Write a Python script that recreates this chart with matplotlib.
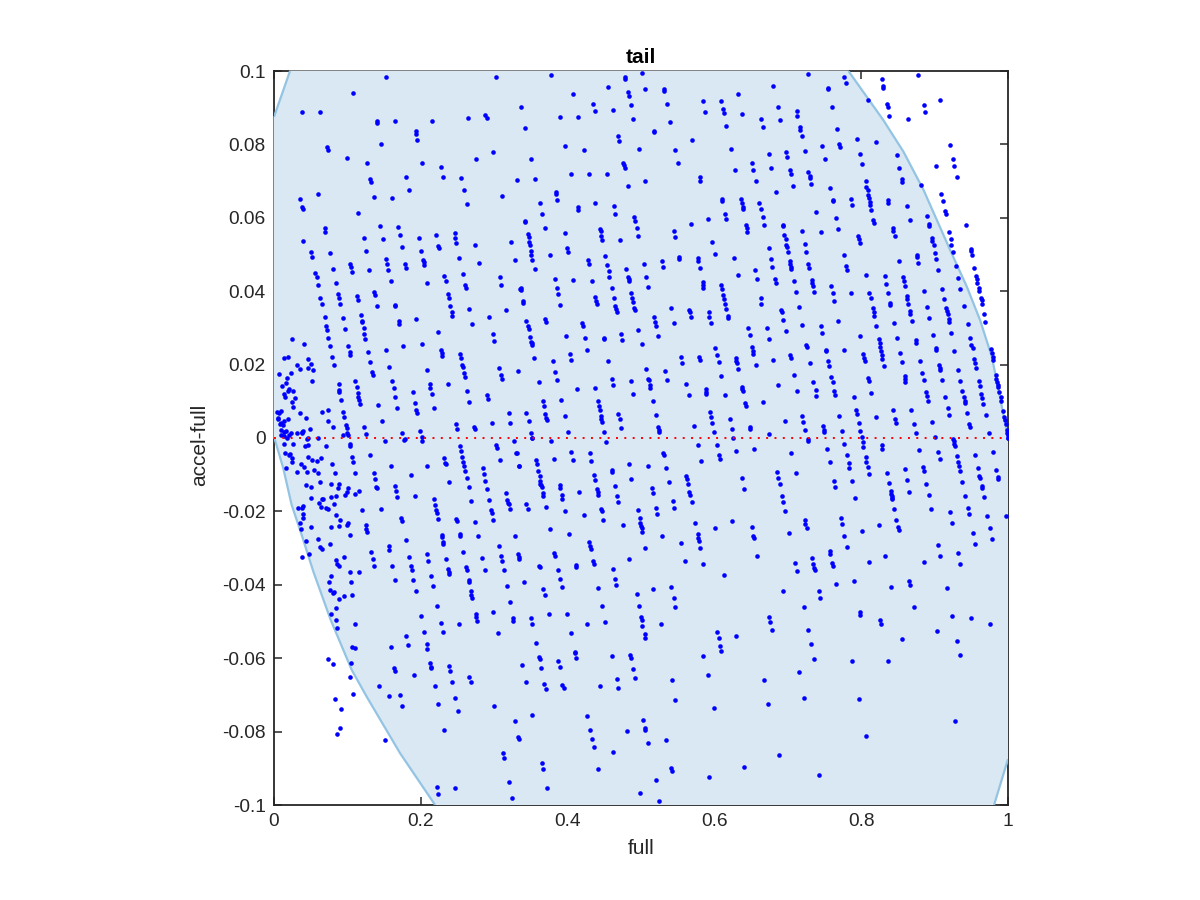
#!/usr/bin/env python3
import matplotlib
matplotlib.use("Agg")
import matplotlib.pyplot as plt

# values, as (full, accel-full), one list per region of the plot
top_left = [(.153,.0983),(.303,.0985),(.107,.0941),(.038,.0887),(.063,.0888),(.140,.0864),(.141,.0857),(.165,.0864),(.215,.0864),
(.264,.0872),(.288,.0880),(.290,.0871),(.193,.0836),(.194,.0828),(.195,.0811),(.146,.0800),(.072,.0792),(.073,.0784),(.100,.0762),
(.127,.0748),(.201,.0749),(.228,.0739),(.275,.0760),(.299,.0778),(.131,.0707),(.132,.0697),(.180,.0712),(.230,.0712),(.255,.0709),
(.331,.0702),(.184,.0675),(.259,.0675),(.060,.0665),(.036,.0650),(.038,.0630),(.039,.0625),(.136,.0656),(.161,.0653),(.263,.0638),
(.310,.0659),(.115,.0614),(.069,.0573),(.070,.0562),(.144,.0577),(.169,.0575),(.122,.0546),(.148,.0541),(.171,.0552),(.197,.0544),
(.221,.0554),(.246,.0559),(.247,.0544),(.248,.0530),(.274,.0527),(.323,.0534),(.040,.0536),(.175,.0520),(.224,.0523),(.225,.0518)]

top_mid = [(.377,.0990),(.478,.0983),(.478,.0979),(.502,.0995),(.455,.0957),(.482,.0943),(.483,.0931),(.506,.0950),(.531,.0952),
(.532,.0945),(.407,.0937),(.632,.0937),(.435,.0910),(.437,.0892),(.462,.0893),(.486,.0907),(.535,.0911),(.584,.0917),(.609,.0918),
(.612,.0897),(.613,.0885),(.587,.0887),(.638,.0884),(.336,.0901),(.389,.0876),(.414,.0874),(.489,.0870),(.540,.0861),(.342,.0845),
(.616,.0849),(.518,.0837),(.518,.0833),(.469,.0822),(.470,.0809),(.570,.0811),(.396,.0796),(.422,.0786),(.497,.0788),(.547,.0785),
(.622,.0787),(.350,.0760),(.476,.0749),(.477,.0743),(.478,.0735),(.551,.0749),(.651,.0750),(.628,.0730),(.653,.0730),(.404,.0718),
(.429,.0719),(.454,.0720),(.356,.0707),(.580,.0712),(.581,.0699),(.656,.0699),(.506,.0700),(.482,.0688),(.384,.0671),(.384,.0666),
(.386,.0649),(.362,.0640),(.437,.0640),(.414,.0629),(.414,.0622),(.463,.0631),(.611,.0651),(.611,.0645),(.636,.0652),(.638,.0640),
(.639,.0629),(.639,.0624),(.661,.0640),(.365,.0611),(.465,.0610),(.615,.0610),(.491,.0601),(.492,.0591),(.591,.0598),(.616,.0598),
(.342,.0591),(.342,.0588),(.568,.0583),(.369,.0573),(.494,.0571),(.643,.0580),(.644,.0573),(.645,.0562),(.346,.0556),(.347,.0547),
(.396,.0558),(.444,.0570),(.445,.0563),(.446,.0551),(.447,.0540),(.496,.0551),(.545,.0563),(.546,.0549),(.472,.0539),(.348,.0533),
(.349,.0526),(.597,.0533),(.399,.0518)]

top_right = [(.727,.0991),(.680,.0959),(.755,.0955),(.755,.0952),(.777,.0985),(.779,.0966),(.828,.0979),(.830,.0959),(.830,.0955),
(.877,.0989),(.809,.0921),(.835,.0909),(.836,.0901),(.885,.0908),(.887,.0887),(.908,.0921),(.838,.0877),(.864,.0868),(.686,.0902),
(.760,.0903),(.712,.0892),(.713,.0878),(.664,.0870),(.689,.0867),(.666,.0847),(.716,.0848),(.717,.0840),(.719,.0822),(.767,.0843),
(.794,.0816),(.820,.0806),(.770,.0801),(.771,.0794),(.747,.0795),(.723,.0783),(.698,.0778),(.699,.0766),(.674,.0773),(.798,.0775),
(.849,.0771),(.921,.0798),(.750,.0761),(.801,.0747),(.925,.0759),(.927,.0741),(.902,.0740),(.852,.0737),(.677,.0737),(.703,.0729),
(.704,.0720),(.728,.0724),(.730,.0715),(.730,.0709),(.732,.0692),(.930,.0711),(.855,.0705),(.856,.0697),(.806,.0700),(.807,.0685),
(.809,.0675),(.809,.0663),(.810,.0654),(.812,.0642),(.812,.0636),(.707,.0687),(.757,.0682),(.882,.0690),(.684,.0670),(.909,.0664),
(.911,.0647),(.761,.0649),(.761,.0645),(.786,.0650),(.788,.0635),(.836,.0648),(.837,.0639),(.862,.0633),(.814,.0621),(.739,.0615),
(.914,.0618),(.915,.0609),(.766,.0600),(.664,.0623),(.666,.0602),(.890,.0605),(.867,.0593),(.816,.0595),(.818,.0586),(.693,.0581),
(.693,.0578),(.668,.0581),(.893,.0584),(.893,.0579),(.943,.0581),(.769,.0570),(.844,.0571),(.844,.0563),(.846,.0551),(.719,.0564),
(.745,.0560),(.920,.0560),(.695,.0553),(.697,.0542),(.796,.0551),(.797,.0541),(.798,.0532),(.896,.0545),(.897,.0536),(.899,.0525),
(.922,.0542),(.923,.0526),(.723,.0528),(.698,.0525),(.699,.0521),(.674,.0519),(.949,.0514)]

upper_left = [(.050,.0508),(.052,.0494),(.076,.0505),(.125,.0509),(.200,.0509),(.153,.0489),(.154,.0475),(.155,.0458),(.203,.0485),
(.204,.0479),(.204,.0472),(.179,.0473),(.180,.0464),(.252,.0490),(.279,.0476),(.328,.0484),(.104,.0473),(.105,.0467),(.106,.0452),
(.080,.0460),(.130,.0458),(.056,.0450),(.058,.0438),(.060,.0418),(.159,.0427),(.084,.0421),(.209,.0422),(.232,.0441),(.234,.0428),
(.257,.0446),(.260,.0417),(.261,.0408),(.308,.0438),(.309,.0418),(.335,.0407),(.136,.0399),(.137,.0389),(.087,.0393),(.088,.0382),
(.090,.0366),(.113,.0386),(.114,.0375),(.237,.0392),(.238,.0382),(.240,.0361),(.242,.0343),(.243,.0333),(.063,.0381),(.065,.0365),
(.165,.0362),(.165,.0359),(.140,.0359),(.266,.0352),(.316,.0350),(.069,.0330),(.118,.0334),(.120,.0319),(.120,.0316),(.094,.0326),
(.170,.0319),(.170,.0311),(.194,.0324),(.293,.0331),(.270,.0311),(.071,.0304),(.072,.0294),(.097,.0298),(.122,.0300),(.123,.0284),
(.124,.0270),(.223,.0289),(.298,.0283),(.300,.0265),(.074,.0273),(.024,.0269),(.041,.0255),(.076,.0250),(.101,.0252),(.103,.0235),
(.104,.0226),(.176,.0250),(.201,.0256),(.152,.0241),(.128,.0234),(.228,.0240),(.229,.0231),(.229,.0223),(.253,.0230),(.255,.0219),
(.079,.0220),(.019,.0220),(.013,.0217),(.046,.0215),(.131,.0206),(.051,.0202),(.031,.0199),(.082,.0198),(.256,.0199),(.257,.0194),
(.157,.0193),(.047,.0192),(.036,.0187),(.053,.0184),(.307,.0191),(.333,.0183),(.208,.0185),(.023,.0178),(.133,.0181),(.135,.0173),
(.007,.0174),(.259,.0177),(.260,.0167),(.309,.0173),(.310,.0160),(.018,.0163),(.052,.0156),(.111,.0154),(.113,.0139),(.115,.0122),
(.115,.0111),(.116,.0103),(.117,.0094),(.161,.0154),(.163,.0136),(.165,.0112),(.016,.0150),(.011,.0143),(.089,.0147),(.089,.0131),
(.089,.0125),(.212,.0147),(.213,.0137),(.215,.0121),(.237,.0146),(.263,.0128),(.266,.0099),(.020,.0134),(.019,.0128),(.026,.0129),
(.189,.0124),(.290,.0117),(.291,.0105),(.014,.0119),(.015,.0111),(.028,.0109),(.091,.0103),(.025,.0099),(.192,.0095),(.142,.0091),
(.026,.0085),(.168,.0083),(.218,.0081),(.194,.0076),(.195,.0068),(.073,.0076),(.065,.0072),(.094,.0070),(.095,.0058),(.004,.0071),
(.010,.0073),(.007,.0069),(.035,.0067),(.320,.0068),(.044,.0054),(.005,.0055),(.005,.0053),(.019,.0053),(.147,.0047),(.074,.0046),
(.014,.0046),(.010,.0042),(.008,.0038),(.012,.0035),(.248,.0039),(.249,.0025),(.322,.0041),(.297,.0040),(.273,.0031),(.274,.0025),
(.098,.0035),(.099,.0028),(.081,.0030),(.123,.0030),(.049,.0025),(.010,.0022),(.013,.0017),(.016,.0019),(.009,.0007),(.038,.0017),
(.039,.0018),(.038,.0014),(.023,.0014),(.021,.0007),(.199,.0020),(.031,.0013),(.100,.0014),(.101,.0007),(.094,.0009),(.125,.0011),
(.175,.0014),(.201,.0003),(.047,.0001),(.060,-.0001),(.014,.0005),(.018,.0001),(.045,-.0004),(.178,-.0004)]

upper_mid = [(.350,.0509),(.350,.0500),(.376,.0499),(.401,.0507),(.352,.0485),(.355,.0460),(.428,.0484),(.429,.0474),(.451,.0497),
(.454,.0471),(.456,.0455),(.457,.0438),(.480,.0460),(.504,.0473),(.528,.0482),(.530,.0465),(.552,.0494),(.552,.0488),(.577,.0490),
(.578,.0483),(.580,.0464),(.601,.0501),(.627,.0490),(.632,.0445),(.655,.0458),(.658,.0432),(.383,.0433),(.408,.0431),(.433,.0427),
(.482,.0439),(.483,.0432),(.483,.0428),(.507,.0438),(.510,.0412),(.584,.0424),(.585,.0417),(.585,.0410),(.609,.0418),(.611,.0406),
(.385,.0410),(.387,.0393),(.336,.0408),(.336,.0403),(.461,.0408),(.486,.0396),(.612,.0390),(.613,.0379),(.438,.0383),(.439,.0374),
(.440,.0365),(.463,.0382),(.488,.0382),(.489,.0371),(.339,.0372),(.339,.0368),(.390,.0363),(.615,.0365),(.616,.0352),(.465,.0359),
(.466,.0351),(.467,.0343),(.491,.0355),(.492,.0349),(.541,.0353),(.566,.0348),(.567,.0342),(.568,.0329),(.592,.0342),(.593,.0331),
(.595,.0313),(.618,.0332),(.619,.0326),(.518,.0329),(.519,.0317),(.521,.0304),(.344,.0319),(.346,.0305),(.347,.0296),(.369,.0323),
(.370,.0315),(.545,.0314),(.420,.0312),(.421,.0305),(.646,.0300),(.496,.0294),(.473,.0284),(.648,.0281),(.398,.0279),(.424,.0273),
(.523,.0277),(.349,.0274),(.350,.0262),(.351,.0258),(.351,.0253),(.449,.0272),(.449,.0269),(.474,.0268),(.501,.0255),(.601,.0245),
(.651,.0247),(.652,.0236),(.653,.0228),(.427,.0240),(.403,.0230),(.405,.0212),(.604,.0225),(.606,.0207),(.554,.0220),(.556,.0204),
(.579,.0220),(.580,.0212),(.354,.0219),(.380,.0211),(.455,.0210),(.629,.0218),(.630,.0211),(.631,.0205),(.657,.0199),(.632,.0187),
(.507,.0189),(.383,.0181),(.533,.0182),(.609,.0168),(.386,.0158),(.361,.0153),(.460,.0161),(.486,.0154),(.510,.0161),(.511,.0157),
(.512,.0145),(.512,.0137),(.536,.0157),(.561,.0146),(.462,.0144),(.413,.0134),(.438,.0135),(.588,.0133),(.589,.0126),(.589,.0121),
(.637,.0139),(.638,.0134),(.639,.0128),(.489,.0120),(.565,.0118),(.615,.0116),(.366,.0102),(.368,.0086),(.391,.0104),(.441,.0102),
(.443,.0086),(.444,.0075),(.516,.0102),(.642,.0096),(.643,.0088),(.344,.0069),(.369,.0066),(.371,.0054),(.372,.0049),(.396,.0059),
(.445,.0061),(.446,.0053),(.447,.0044),(.469,.0066),(.471,.0053),(.520,.0064),(.594,.0072),(.596,.0058),(.597,.0042),(.621,.0053),
(.347,.0047),(.572,.0034),(.473,.0028),(.523,.0031),(.524,.0021),(.525,.0015),(.648,.0031),(.649,.0024),(.624,.0024),(.350,.0014),
(.400,.0016),(.450,.0015),(.600,.0015),(.352,-.0001),(.626,.0001)]

upper_right = [(.677,.0487),(.700,.0507),(.725,.0508),(.679,.0466),(.703,.0481),(.703,.0474),(.704,.0467),(.705,.0460),(.728,.0473),
(.729,.0463),(.776,.0499),(.779,.0469),(.780,.0459),(.852,.0483),(.876,.0500),(.876,.0492),(.878,.0477),(.900,.0504),(.902,.0489),
(.905,.0458),(.925,.0507),(.929,.0469),(.949,.0510),(.951,.0499),(.954,.0464),(.932,.0436),(.935,.0407),(.957,.0441),(.958,.0433),
(.958,.0423),(.960,.0409),(.961,.0400),(.807,.0443),(.832,.0442),(.857,.0439),(.858,.0429),(.859,.0414),(.834,.0419),(.683,.0434),
(.684,.0422),(.708,.0427),(.733,.0430),(.733,.0421),(.734,.0413),(.759,.0414),(.711,.0398),(.736,.0398),(.761,.0396),(.786,.0394),
(.811,.0396),(.813,.0382),(.836,.0396),(.886,.0400),(.910,.0406),(.913,.0379),(.963,.0382),(.964,.0376),(.862,.0388),(.863,.0380),
(.663,.0382),(.664,.0364),(.763,.0373),(.839,.0369),(.839,.0363),(.864,.0365),(.964,.0364),(.940,.0361),(.715,.0356),(.890,.0356),
(.691,.0349),(.692,.0344),(.816,.0353),(.817,.0343),(.818,.0333),(.867,.0345),(.867,.0339),(.916,.0353),(.917,.0346),(.918,.0338),
(.919,.0324),(.920,.0315),(.967,.0339),(.893,.0327),(.969,.0317),(.693,.0322),(.769,.0319),(.869,.0319),(.845,.0312),(.720,.0309),
(.745,.0304),(.945,.0310),(.820,.0306),(.671,.0299),(.697,.0291),(.747,.0287),(.922,.0286),(.898,.0280),(.798,.0279),(.849,.0273),
(.948,.0272),(.674,.0269),(.824,.0269),(.825,.0260),(.826,.0249),(.827,.0236),(.828,.0225),(.829,.0214),(.831,.0197),(.874,.0266),
(.875,.0260),(.950,.0253),(.952,.0244),(.725,.0254),(.726,.0248),(.902,.0244),(.902,.0241),(.752,.0241),(.752,.0238),(.777,.0240),
(.927,.0238),(.977,.0243),(.978,.0231),(.979,.0221),(.979,.0212),(.853,.0231),(.803,.0230),(.804,.0217),(.805,.0209),(.703,.0227),
(.704,.0217),(.680,.0213),(.755,.0211),(.756,.0197),(.880,.0211),(.855,.0206),(.954,.0216),(.955,.0203),(.957,.0191),(.730,.0203),
(.906,.0200),(.907,.0192),(.908,.0185),(.932,.0186),(.883,.0178),(.708,.0173),(.759,.0167),(.761,.0152),(.809,.0164),(.810,.0155),
(.859,.0168),(.860,.0161),(.860,.0152),(.885,.0157),(.910,.0158),(.935,.0154),(.960,.0156),(.984,.0172),(.984,.0162),(.985,.0153),
(.986,.0144),(.987,.0138),(.735,.0153),(.686,.0145),(.962,.0141),(.738,.0132),(.713,.0127),(.763,.0129),(.764,.0118),(.938,.0127),
(.940,.0112),(.941,.0102),(.941,.0095),(.988,.0125),(.963,.0121),(.965,.0108),(.966,.0094),(.888,.0125),(.889,.0115),(.914,.0112),
(.990,.0111),(.991,.0102),(.814,.0122),(.739,.0115),(.790,.0113),(.891,.0102),(.666,.0098),(.793,.0075),(.794,.0066),(.844,.0075),
(.868,.0076),(.918,.0081),(.919,.0064),(.944,.0069),(.970,.0062),(.993,.0073),(.995,.0058),(.996,.0049),(.997,.0038),(.720,.0060),
(.770,.0061),(.820,.0058),(.721,.0044),(.696,.0046),(.846,.0052),(.847,.0041),(.897,.0043),(.797,.0042),(.872,.0038),(.947,.0037),
(.948,.0029),(.748,.0033),(.749,.0021),(.749,.0017),(.723,.0021),(.774,.0019),(.799,.0019),(.874,.0014),(.974,.0014),(.998,.0022),
(.999,.0014),(1.000,.0007),(1.000,-.0001),(.675,.0010),(.801,.0003),(.900,.0003),(.925,-.0004),(.728,-.0004)]

lower_left = [(.151,-.0009),(.177,-.0005),(.202,-.0007),(.014,-.0016),(.026,-.0016),(.042,-.0023),(.046,-.0019),(.071,-.0021),
(.103,-.0015),(.104,-.0022),(.254,-.0021),(.255,-.0036),(.256,-.0051),(.258,-.0065),(.259,-.0076),(.260,-.0089),(.263,-.0110),
(.265,-.0134),(.303,-.0019),(.304,-.0027),(.015,-.0040),(.020,-.0046),(.022,-.0044),(.025,-.0055),(.024,-.0066),(.047,-.0052),
(.052,-.0060),(.059,-.0064),(.064,-.0055),(.106,-.0051),(.108,-.0066),(.131,-.0046),(.232,-.0055),(.233,-.0067),(.234,-.0071),
(.331,-.0042),(.308,-.0060),(.037,-.0071),(.041,-.0080),(.016,-.0083),(.079,-.0072),(.159,-.0077),(.209,-.0077),(.334,-.0075),
(.055,-.0087),(.031,-.0092),(.045,-.0092),(.060,-.0096),(.083,-.0096),(.111,-.0096),(.136,-.0096),(.137,-.0111),(.139,-.0133),
(.140,-.0135),(.186,-.0101),(.285,-.0082),(.286,-.0099),(.288,-.0116),(.290,-.0138),(.293,-.0169),(.296,-.0195),(.297,-.0203),
(.299,-.0224),(.062,-.0119),(.078,-.0125),(.088,-.0125),(.087,-.0137),(.044,-.0128),(.051,-.0133),(.165,-.0130),(.166,-.0145),
(.168,-.0161),(.239,-.0121),(.101,-.0136),(.099,-.0146),(.097,-.0155),(.116,-.0145),(.111,-.0153),(.316,-.0150),(.318,-.0169),
(.319,-.0176),(.320,-.0181),(.321,-.0194),(.051,-.0164),(.065,-.0165),(.067,-.0165),(.078,-.0161),(.085,-.0159),(.192,-.0158),
(.218,-.0167),(.220,-.0182),(.221,-.0195),(.222,-.0204),(.224,-.0221),(.269,-.0171),(.061,-.0177),(.082,-.0181),(.033,-.0190),
(.038,-.0190),(.040,-.0184),(.064,-.0188),(.071,-.0190),(.073,-.0194),(.120,-.0197),(.146,-.0194),(.039,-.0206),(.040,-.0217),
(.085,-.0209),(.090,-.0223),(.173,-.0217),(.174,-.0227),(.248,-.0221),(.249,-.0226),(.036,-.0231),(.274,-.0230),(.101,-.0232),
(.100,-.0238),(.089,-.0240),(.077,-.0242),(.051,-.0243),(.037,-.0247),(.125,-.0238),(.126,-.0247),(.127,-.0256),(.104,-.0264),
(.229,-.0265),(.229,-.0271),(.253,-.0261),(.253,-.0267),(.278,-.0268),(.328,-.0266),(.060,-.0275),(.180,-.0278),(.043,-.0282),
(.076,-.0288),(.230,-.0283),(.230,-.0290),(.156,-.0293),(.157,-.0304),(.063,-.0298),(.065,-.0303),(.306,-.0294),(.132,-.0310),
(.257,-.0311),(.048,-.0315),(.208,-.0317),(.210,-.0335),(.038,-.0325),(.095,-.0324),(.184,-.0324),(.309,-.0322),(.310,-.0336),
(.284,-.0328),(.333,-.0317),(.334,-.0324),(.334,-.0331),(.135,-.0329),(.084,-.0332),(.235,-.0331),(.086,-.0342),(.089,-.0349),
(.136,-.0350),(.161,-.0349),(.186,-.0350),(.188,-.0361),(.237,-.0356),(.238,-.0364),(.239,-.0371),(.262,-.0352),(.263,-.0361),
(.288,-.0361),(.313,-.0360),(.103,-.0365),(.116,-.0364),(.077,-.0377),(.214,-.0376),(.075,-.0393),(.105,-.0392),(.165,-.0386),
(.190,-.0387),(.265,-.0386),(.266,-.0392),(.217,-.0403),(.317,-.0403),(.076,-.0415),(.082,-.0419),(.081,-.0423),(.193,-.0417),
(.268,-.0417),(.269,-.0428),(.270,-.0435),(.095,-.0430),(.106,-.0428),(.089,-.0439),(.321,-.0447),(.222,-.0459),(.085,-.0463),
(.299,-.0473),(.078,-.0479),(.200,-.0485),(.275,-.0480),(.275,-.0488),(.276,-.0499),(.085,-.0496),(.326,-.0491),(.326,-.0499),
(.111,-.0508),(.227,-.0505),(.252,-.0507)]

lower_mid = [(.327,-.0008),(.351,-.0001),(.377,-.0007),(.452,-.0012),(.578,-.0019),(.603,-.0019),(.330,-.0042),(.405,-.0037),
(.431,-.0042),(.530,-.0041),(.531,-.0046),(.606,-.0047),(.607,-.0058),(.630,-.0036),(.654,-.0030),(.357,-.0059),(.358,-.0071),
(.381,-.0056),(.407,-.0061),(.432,-.0063),(.582,-.0064),(.334,-.0075),(.483,-.0071),(.509,-.0075),(.534,-.0081),(.360,-.0090),
(.362,-.0104),(.363,-.0117),(.363,-.0124),(.364,-.0128),(.365,-.0134),(.460,-.0086),(.461,-.0094),(.436,-.0101),(.438,-.0115),
(.561,-.0104),(.562,-.0112),(.564,-.0125),(.637,-.0110),(.487,-.0111),(.538,-.0121),(.389,-.0128),(.390,-.0137),(.464,-.0131),
(.515,-.0137),(.516,-.0150),(.640,-.0139),(.440,-.0140),(.441,-.0146),(.442,-.0154),(.416,-.0147),(.366,-.0150),(.367,-.0159),
(.392,-.0155),(.393,-.0165),(.467,-.0157),(.566,-.0148),(.567,-.0155),(.569,-.0174),(.469,-.0175),(.543,-.0171),(.344,-.0179),
(.346,-.0193),(.370,-.0188),(.520,-.0190),(.522,-.0206),(.545,-.0192),(.396,-.0200),(.446,-.0194),(.447,-.0200),(.496,-.0196),
(.422,-.0211),(.498,-.0218),(.448,-.0223),(.499,-.0232),(.500,-.0240),(.501,-.0244),(.502,-.0256),(.574,-.0231),(.624,-.0225),
(.475,-.0238),(.651,-.0242),(.601,-.0245),(.376,-.0248),(.402,-.0262),(.528,-.0266),(.653,-.0267),(.654,-.0273),(.577,-.0262),
(.578,-.0273),(.579,-.0280),(.429,-.0284),(.431,-.0293),(.432,-.0302),(.555,-.0287),(.506,-.0299),(.581,-.0301),(.382,-.0312),
(.383,-.0322),(.658,-.0322),(.484,-.0329),(.435,-.0336),(.436,-.0342),(.560,-.0336),(.585,-.0342),(.361,-.0348),(.362,-.0352),
(.411,-.0347),(.412,-.0352),(.462,-.0357),(.387,-.0360),(.613,-.0373),(.390,-.0384),(.465,-.0384),(.341,-.0392),(.466,-.0401),
(.392,-.0406),(.367,-.0411),(.442,-.0410),(.517,-.0411),(.541,-.0405),(.369,-.0427),(.494,-.0426),(.545,-.0436),(.447,-.0458),
(.497,-.0457),(.547,-.0460),(.374,-.0480),(.399,-.0479),(.350,-.0490),(.500,-.0487),(.501,-.0497),(.451,-.0500),(.427,-.0508),
(.352,-.0508),(.527,-.0508)]

lower_right = [(.727,-.0008),(1.000,.0001),(.802,-.0012),(.803,-.0025),(.828,-.0020),(.829,-.0030),(.926,-.0007),(.927,-.0015),
(.928,-.0021),(.754,-.0030),(.777,-.0017),(.879,-.0034),(.705,-.0042),(.780,-.0046),(.905,-.0039),(.907,-.0057),(.955,-.0046),
(.980,-.0039),(.931,-.0049),(.806,-.0052),(.807,-.0066),(.809,-.0079),(.758,-.0066),(.783,-.0069),(.784,-.0083),(.932,-.0066),
(.933,-.0075),(.935,-.0090),(.884,-.0080),(.885,-.0089),(.859,-.0085),(.959,-.0081),(.984,-.0086),(.685,-.0093),(.687,-.0109),
(.689,-.0126),(.711,-.0096),(.835,-.0096),(.811,-.0099),(.961,-.0104),(.962,-.0109),(.987,-.0107),(.987,-.0113),(.763,-.0117),
(.788,-.0118),(.863,-.0115),(.838,-.0122),(.888,-.0124),(.938,-.0121),(.764,-.0134),(.964,-.0132),(.964,-.0137),(.840,-.0145),
(.841,-.0152),(.842,-.0158),(.842,-.0163),(.842,-.0166),(.865,-.0147),(.892,-.0156),(.942,-.0159),(.967,-.0160),(.692,-.0157),
(.693,-.0175),(.696,-.0199),(.792,-.0164),(.845,-.0194),(.895,-.0194),(.945,-.0191),(.947,-.0207),(.921,-.0201),(.972,-.0212),
(.997,-.0212),(.773,-.0217),(.723,-.0223),(.724,-.0235),(.726,-.0245),(.848,-.0224),(.774,-.0234),(.824,-.0236),(.924,-.0232),
(.850,-.0243),(.851,-.0250),(.975,-.0246),(.702,-.0260),(.801,-.0253),(.952,-.0258),(.777,-.0267),(.978,-.0274),(.905,-.0291),
(.955,-.0288),(.781,-.0297),(.757,-.0308),(.758,-.0316),(.932,-.0313),(.833,-.0321),(.908,-.0322),(.733,-.0326),(.710,-.0340),
(.735,-.0344),(.736,-.0354),(.737,-.0360),(.760,-.0341),(.761,-.0348),(.810,-.0337),(.885,-.0338),(.935,-.0343),(.712,-.0362),
(.790,-.0390),(.766,-.0399),(.865,-.0391),(.866,-.0401),(.841,-.0407),(.917,-.0409),(.693,-.0417),(.743,-.0418),(.744,-.0436),
(.722,-.0460),(.872,-.0460),(.798,-.0475),(.799,-.0482),(.924,-.0485),(.950,-.0490),(.826,-.0496),(.675,-.0489),(.676,-.0502),
(.976,-.0506),(.827,-.0508)]

bottom_left = [(.086,-.0518),(.180,-.0540),(.205,-.0528),(.230,-.0529),(.305,-.0530),(.106,-.0569),(.110,-.0572),(.159,-.0569),
(.183,-.0565),(.208,-.0562),(.209,-.0574),(.073,-.0601),(.081,-.0616),(.105,-.0614),(.213,-.0614),(.214,-.0623),(.214,-.0627),
(.239,-.0621),(.240,-.0634),(.164,-.0626),(.165,-.0634),(.191,-.0645),(.266,-.0651),(.268,-.0665),(.103,-.0651),(.243,-.0664),
(.143,-.0675),(.219,-.0676),(.108,-.0698),(.156,-.0704),(.172,-.0701),(.247,-.0709),(.083,-.0712),(.224,-.0724),(.175,-.0730),
(.300,-.0730),(.091,-.0739),(.251,-.0744),(.329,-.0770),(.090,-.0790),(.231,-.0795),(.086,-.0807),(.151,-.0824),(.333,-.0814),
(.334,-.0821),(.312,-.0857),(.314,-.0873),(.320,-.0936),(.222,-.0951),(.247,-.0955),(.224,-.0971),(.324,-.0981)]

bottom_mid = [(.502,-.0513),(.405,-.0532),(.505,-.0535),(.506,-.0545),(.604,-.0528),(.606,-.0545),(.608,-.0566),(.609,-.0580),
(.630,-.0539),(.357,-.0558),(.410,-.0584),(.410,-.0587),(.411,-.0600),(.461,-.0594),(.485,-.0591),(.486,-.0600),(.585,-.0594),
(.361,-.0596),(.362,-.0602),(.387,-.0607),(.338,-.0619),(.389,-.0624),(.364,-.0628),(.489,-.0629),(.591,-.0645),(.467,-.0656),
(.492,-.0655),(.542,-.0659),(.343,-.0666),(.368,-.0671),(.370,-.0685),(.393,-.0674),(.395,-.0680),(.444,-.0676),(.469,-.0680),
(.547,-.0714),(.600,-.0736),(.352,-.0755),(.427,-.0758),(.503,-.0768),(.431,-.0795),(.481,-.0799),(.505,-.0791),(.506,-.0795),
(.433,-.0821),(.436,-.0842),(.534,-.0824),(.509,-.0830),(.462,-.0856),(.365,-.0886),(.367,-.0903),(.641,-.0896),(.442,-.0903),
(.541,-.0900),(.542,-.0906),(.593,-.0923),(.520,-.0933),(.372,-.0955),(.498,-.0967),(.525,-.0988)]

bottom_right = [(.678,-.0522),(.728,-.0522),(.903,-.0526),(.732,-.0560),(.855,-.0547),(.931,-.0554),(.935,-.0592),(.736,-.0601),
(.787,-.0608),(.837,-.0607),(.715,-.0638),(.667,-.0659),(.722,-.0709),(.797,-.0711),(.673,-.0724),(.928,-.0770),(.807,-.0813),
(.688,-.0864),(.743,-.0919)]

# outline of the shaded band
band_full = [0, .002, .0127, .024, .0377, .0536, .0773, .1059, .1263, .1718, .2195, .981, 1, 1,
             .9917, .978, .962, .944, .9212, .8849, .8576, .8302, .7826, .0218, 0]
band_accel = [0, -.001, -.0083, -.0182, -.0264, -.0364, -.0496, -.0632, -.0705, -.0859, -.1, -.1, -.0875, 0,
              .0085, .0221, .0321, .0412, .0512, .0676, .0780, .0866, .1, .1, .0875]
lower_edge = (band_full[:11], band_accel[:11])
corner_br = (band_full[11:13], band_accel[11:13])
upper_edge = (band_full[13:23], band_accel[13:23])
corner_tl = (band_full[23:], band_accel[23:])

xticks = [0, .2, .4, .6, .8, 1]
xtick_labels = ["0", "0.2", "0.4", "0.6", "0.8", "1"]
yticks = [-.1, -.08, -.06, -.04, -.02, 0, .02, .04, .06, .08, .1]
ytick_labels = ["-0.1", "-0.08", "-0.06", "-0.04", "-0.02", "0", "0.02", "0.04", "0.06", "0.08", "0.1"]

points = (top_left + top_mid + top_right + upper_left + upper_mid + upper_right
          + lower_left + lower_mid + lower_right + bottom_left + bottom_mid + bottom_right)
full = [p[0] for p in points]
accel = [p[1] for p in points]

plt.rcParams['font.family'] = ['Liberation Sans', 'DejaVu Sans']
dark = '#262626'

fig = plt.figure(figsize=(12, 9), dpi=100)
ax = fig.add_axes([274/1200, 95/900, 734/1200, 734/900])

ax.fill(band_full, band_accel, facecolor='#d9e8f3', edgecolor='none', zorder=3)
for xs, ys in (lower_edge, corner_br, upper_edge, corner_tl):
    ax.plot(xs, ys, color='#93c4e3', lw=1.6, zorder=3.5, solid_capstyle='butt')
ax.plot(full, accel, 'o', color='#0000ff', ms=3.3, mew=0, zorder=4)
ax.plot([0, 1], [0, 0], color='#ff0000', lw=1.4, ls=(0, (1, 3.29)), zorder=5)

# the band washes out the top and left frame where it touches them
ax.plot([.0218, .7826], [.1, .1], color='#8c8c8c', lw=1.3, zorder=2.6, clip_on=False)
ax.plot([0, 0], [0, .0875], color='#8c8c8c', lw=1.3, zorder=2.6, clip_on=False)

ax.set_xlim(0, 1)
ax.set_ylim(-.1, .1)
ax.set_xticks(xticks, xtick_labels)
ax.set_yticks(yticks, ytick_labels)
ax.tick_params(direction='in', top=True, right=True, length=6, width=1.1, color=dark,
               labelcolor=dark, labelsize=13.8, pad=6)
for s in ax.spines.values():
    s.set_linewidth(1.3)
    s.set_color(dark)
ax.set_xlabel("full", fontsize=15, color=dark, va='center')
ax.xaxis.set_label_coords(.4995, -44/734)
ax.set_ylabel("accel-full", fontsize=15, color=dark, va='center')
ax.yaxis.set_label_coords(-74/734, .49)
ax.set_title("tail", fontsize=15, fontweight='bold', color='black', pad=6)

fig.savefig("out.png", dpi=100)
